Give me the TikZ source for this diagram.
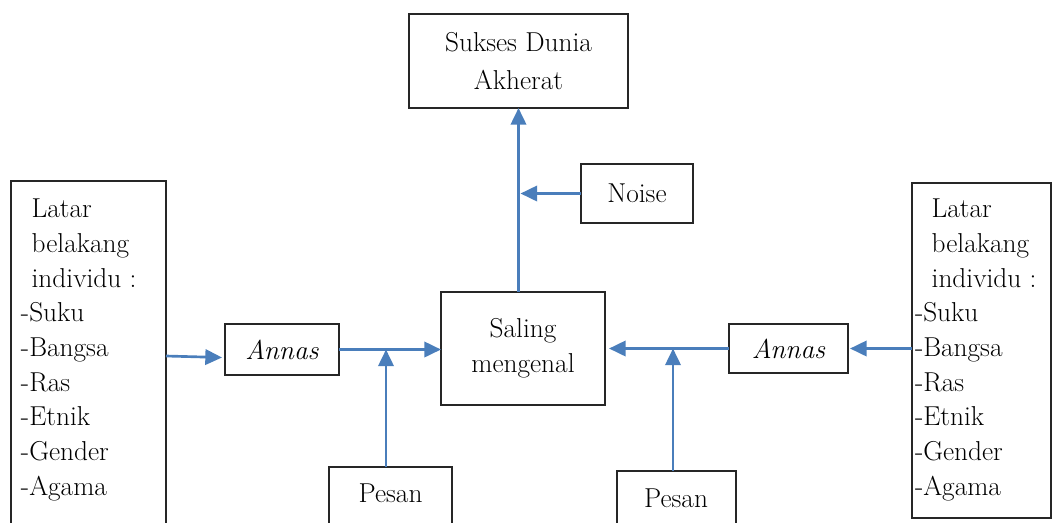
\documentclass[tikz,border=0pt]{standalone}
\usetikzlibrary{arrows.meta,calc}
\definecolor{arrblue}{RGB}{74,126,187}
\begin{document}
\begin{tikzpicture}[x=0.75pt,y=-0.75pt,
  box/.style={draw=black!85, line width=0.9pt, inner sep=0pt, outer sep=0pt, anchor=north west,
    font=\fontsize{20.5}{26}\selectfont, align=center},
  txt/.style={font=\fontsize{20.5}{26}\selectfont, inner sep=0pt, outer sep=0pt},
  arr/.style={draw=arrblue, line width=2pt, -{Triangle[length=12.5pt,width=11.5pt]}}]
\useasboundingbox (0,0) rectangle (1052,522);
% boxes
\node[box, minimum width=164.25pt, minimum height=70.5pt, font=\fontsize{20.5}{28.5}\selectfont] (sk) at (409,14) {Sukses Dunia\\Akherat};
\node[box, minimum width=84pt, minimum height=44.25pt] (nz) at (581,164) {Noise};
\node[box, minimum width=123pt, minimum height=84.75pt] (sm) at (441,292) {Saling\\mengenal};
\node[box, minimum width=85.5pt, minimum height=38.25pt] (aL) at (225,324) {\itshape Annas};
\node[box, minimum width=89.25pt, minimum height=36.75pt] (aR) at (729,324) {\itshape Annas};
\node[box, minimum width=92.25pt, minimum height=58.5pt] (pl) at (329,467) {};
\node[txt] (plt) at (390.5,492.8) {Pesan};
\node[box, minimum width=89.25pt, minimum height=55.5pt] (pr) at (617,471) {};
\node[txt] (prt) at (676,497.8) {Pesan};
\node[box, minimum width=116.25pt, minimum height=273pt] (lb) at (11,181) {};
\node[txt, anchor=north west, align=left] (lbt) at (21,199.3)
  {\hspace*{8pt}Latar\\\hspace*{8pt}belakang\\\hspace*{8pt}individu :\\-Suku\\-Bangsa\\-Ras\\-Etnik\\-Gender\\-Agama};
\node[box, minimum width=104.25pt, minimum height=251.25pt] (rb) at (912,183) {};
\node[txt, anchor=north west, align=left] (rbt) at (915,199.3)
  {\hspace*{12.5pt}Latar\\\hspace*{12.5pt}belakang\\\hspace*{12.5pt}individu :\\-Suku\\-Bangsa\\-Ras\\-Etnik\\-Gender\\-Agama};
% junction points
\coordinate (l1) at (167,356);
\coordinate (jL) at (386,349.5);
\coordinate (jR) at (673,348.5);
\coordinate (jN) at (520.5,193.5);
% arrows
\draw[arr] (lb.east |- l1) -- ($(aL.west)+(-3,8)$);
\draw[arr] (aL.east) -- (aL.east -| sm.west);
\draw[arr] (jL |- pl.north) -- (jL);
\draw[arr, shorten >=3pt] (aR.west) -- (aR.west -| sm.east);
\draw[arr, shorten >=1.5pt] (rb.west |- aR.east) -- (aR.east);
\draw[arr] (jR |- pr.north) -- (jR);
\draw[arr] (sm.north -| sk.south) -- (sk.south);
\draw[arr] (nz.west) -- (jN);
\end{tikzpicture}
\end{document}
